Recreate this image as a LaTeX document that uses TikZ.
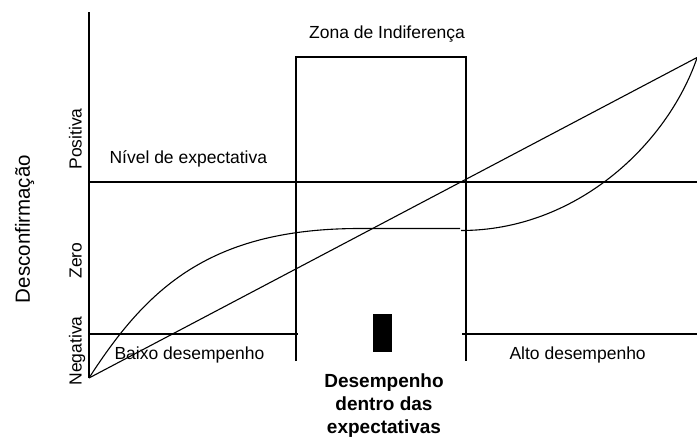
\documentclass[tikz,border=0pt]{standalone}
\usepackage{fontspec}
\setmainfont{Liberation Sans}
\begin{document}
\begin{tikzpicture}[x=1pt,y=-1pt,line width=1.1pt,
  lbl/.style={font=\fontsize{17.5}{21}\selectfont,inner sep=0pt},
  biglbl/.style={font=\fontsize{20.5}{24}\selectfont,inner sep=0pt},
  blbl/.style={font=\fontsize{19}{23}\selectfont\bfseries,inner sep=0pt},
  curve/.style={line width=1.1pt,line join=round}]
\useasboundingbox (0,0) rectangle (697,437);
% coordinates
\coordinate (O) at (89,378);
\coordinate (axtop) at (89,12);
\coordinate (bl) at (296,361);
\coordinate (tl) at (296,57);
\coordinate (tr) at (466,57);
\coordinate (br) at (466,361);
\coordinate (expL) at (89,182);
\coordinate (expR) at (697,182);
\coordinate (negL) at (89,334);
\coordinate (negLe) at (298,334);
\coordinate (negRs) at (462,334);
\coordinate (negR) at (697,334);
\coordinate (TR) at (697,57.5);
\coordinate (flatS) at (360,228.5);
\coordinate (flatE) at (460,228.5);
\coordinate (rS) at (461,230.5);
\coordinate (rE) at (697,58);
% axis and frame
\draw (axtop) -- (O);
\draw (bl) -- (tl) -- (tr) -- (br);
\draw (expL) -- (expR);
\draw (negL) -- (negLe);
\draw (negRs) -- (negR);
\draw (O) -- (TR);
% curves
\draw[curve] (O) .. controls (147,288) and (210,228.5) .. (flatS) -- (flatE);
\draw[curve] (rS) .. controls (576,230.5) and (667,145) .. (rE);
% black bar
\node[fill=black,minimum width=19pt,minimum height=37.7pt,inner sep=0pt,draw=none] (bar) at (382.8,332.9) {};
% texts
\node[lbl,anchor=base] (zona) at (387,38) {Zona de Indiferença};
\node[lbl,anchor=base west] (nivel) at (109,163.3) {Nível de expectativa};
\node[lbl,anchor=base west] (baixo) at (114,359) {Baixo desempenho};
\node[lbl,anchor=base west] (alto) at (509,359) {Alto desempenho};
\node[blbl,anchor=base] (d1) at (384,387.5) {Desempenho};
\node[blbl,anchor=base] (d2) at (384,410.5) {dentro das};
\node[blbl,anchor=base] (d3) at (384,433.5) {expectativas};
\node[lbl,rotate=90,anchor=base] (pos) at (81.5,139) {Positiva};
\node[lbl,rotate=90,anchor=base] (zero) at (81.5,260.5) {Zero};
\node[lbl,rotate=90,anchor=base] (neg) at (81.5,351) {Negativa};
\node[biglbl,rotate=90,anchor=base] (desc) at (30,229) {Desconfirmação};
\end{tikzpicture}
\end{document}
